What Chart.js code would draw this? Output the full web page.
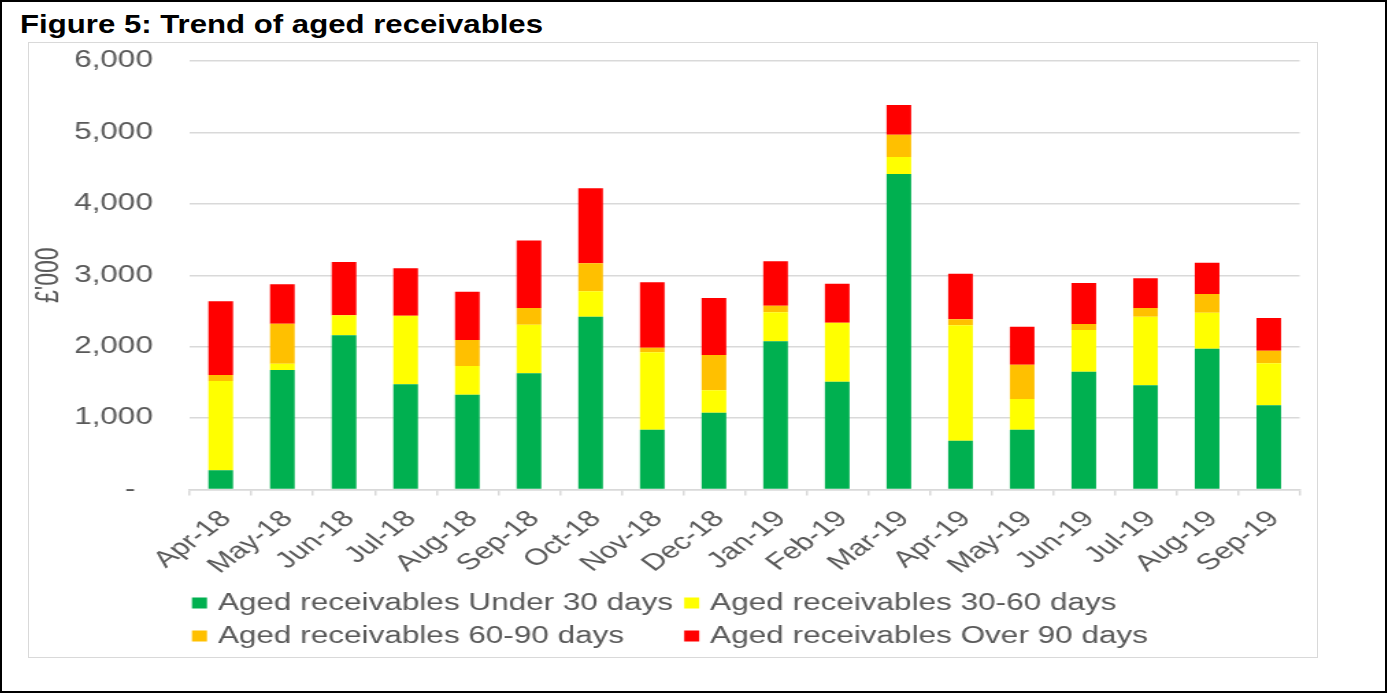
<!DOCTYPE html>
<html>
<head>
<meta charset="utf-8">
<title>Figure 5: Trend of aged receivables</title>
<script src="https://cdn.jsdelivr.net/npm/chart.js@4.4.1/dist/chart.umd.min.js"></script>
<style>
  html, body { margin: 0; padding: 0; background: #fff; }
  #page {
    position: relative; width: 1387px; height: 693px;
    box-sizing: border-box; border: 2px solid #000; overflow: hidden; background: #fff;
  }
  #caption {
    position: absolute; left: 18px; top: 9px;
    font: bold 26px 'Liberation Sans', Arial, sans-serif; line-height: 26px;
    color: #000; white-space: nowrap; transform-origin: 0 0;
  }
  #frame {
    position: absolute; left: 26px; top: 40px; width: 1290px; height: 616px;
    box-sizing: border-box; border: 1px solid #d9d9d9;
  }
  /* the chart is laid out narrow and widened to the frame */
  #stretch {
    position: absolute; left: 26px; top: 40px; width: 942px; height: 616px;
    transform: scaleX(1.3695); transform-origin: 0 0;
  }
</style>
</head>
<body>
<div id="page">
  <div id="caption">Figure 5: Trend of aged receivables</div>
  <div id="frame"></div>
  <div id="stretch"><canvas id="chart" width="942" height="616"></canvas></div>
</div>
<script>
// Month-end aged receivables, £'000
const months = ['Apr-18', 'May-18', 'Jun-18', 'Jul-18', 'Aug-18', 'Sep-18', 'Oct-18', 'Nov-18', 'Dec-18',
                'Jan-19', 'Feb-19', 'Mar-19', 'Apr-19', 'May-19', 'Jun-19', 'Jul-19', 'Aug-19', 'Sep-19'];
const under30 = [270, 1673, 2160, 1473, 1327, 1627, 2419, 837, 1075, 2075, 1509, 4417, 683, 837, 1649, 1459, 1971, 1179];
const days30to60 = [1250, 88, 280, 960, 402, 680, 356, 1084, 314, 406, 826, 238, 1616, 430, 584, 960, 504, 588];
const days60to90 = [84, 560, 0, 0, 364, 234, 392, 64, 494, 92, 0, 312, 84, 480, 84, 122, 262, 176];
const over90 = [1032, 552, 746, 664, 677, 947, 1050, 916, 798, 622, 546, 416, 638, 532, 574, 416, 438, 458];
const seriesNames = ['Aged receivables Under 30 days', 'Aged receivables 30-60 days',
                     'Aged receivables 60-90 days', 'Aged receivables Over 90 days'];
const yMax = 6000;
const yStep = 1000;
const yTitle = "£'000";

// fit the caption to its column width
const caption = document.getElementById('caption');
caption.style.transform = 'scaleX(' + (523 / caption.getBoundingClientRect().width) + ')';

const FONT = "'Liberation Sans', Arial, sans-serif";
const GREY_TEXT = '#595959';
const GRID = '#d9d9d9';
Chart.defaults.font.family = FONT;

// two-column legend drawn under the axis labels
const gridLegend = {
  id: 'gridLegend',
  afterDraw(chart) {
    const ctx = chart.ctx;
    const sets = chart.data.datasets;
    ctx.save();
    ctx.font = '23px ' + FONT;
    ctx.textBaseline = 'middle';
    const box = 11, textGap = 19, colGap = 8;
    const left = chart.chartArea.left + 1.5;
    const col1 = Math.max(ctx.measureText(sets[0].label).width, ctx.measureText(sets[2].label).width);
    const colX = [left, left + textGap + col1 + colGap];
    const rowY = [chart.height - 55, chart.height - 22];
    sets.forEach((ds, i) => {
      const x = colX[i % 2], y = rowY[Math.floor(i / 2)];
      ctx.fillStyle = ds.backgroundColor;
      ctx.fillRect(x, y - box / 2, box, box);
      ctx.fillStyle = GREY_TEXT;
      ctx.fillText(ds.label, x + textGap, y + 0.5);
    });
    ctx.restore();
  }
};

new Chart(document.getElementById('chart'), {
  type: 'bar',
  data: {
    labels: months,
    datasets: [
      { label: seriesNames[0], data: under30, backgroundColor: '#00B050' },
      { label: seriesNames[1], data: days30to60, backgroundColor: '#FFFF00' },
      { label: seriesNames[2], data: days60to90, backgroundColor: '#FFC000' },
      { label: seriesNames[3], data: over90, backgroundColor: '#FF0000' }
    ]
  },
  options: {
    responsive: false,
    animation: false,
    devicePixelRatio: 1,
    layout: { padding: { left: 2, right: 13.5, top: 19, bottom: 70 } },
    datasets: { bar: { barPercentage: 0.4, categoryPercentage: 1, borderWidth: 0 } },
    plugins: { legend: { display: false }, tooltip: { enabled: false } },
    scales: {
      x: {
        stacked: true,
        grid: { display: true, drawOnChartArea: false, drawTicks: true, tickLength: 6,
                color: GRID, lineWidth: 1.5, offset: true },
        border: { display: true, color: GRID, width: 1.5 },
        ticks: { color: GREY_TEXT, font: { size: 23 }, minRotation: 45, maxRotation: 45,
                 autoSkip: false, padding: 10, labelOffset: 4 },
        afterFit(scale) { scale.height = 98.5; }
      },
      y: {
        stacked: true,
        min: 0,
        max: yMax,
        grid: { color: GRID, lineWidth: 1.5, drawTicks: false },
        border: { display: false },
        ticks: {
          stepSize: yStep, color: GREY_TEXT, font: { size: 23 }, padding: 27,
          callback: v => v === 0 ? '-  ' : v.toLocaleString('en-GB')
        },
        title: { display: true, text: yTitle, color: GREY_TEXT, font: { size: 23 }, padding: 0 },
        afterFit(scale) {
          scale.width = 116.2;
          // the label gap is horizontal only; keep it out of the vertical margins
          scale.paddingTop = 0;
          scale.paddingBottom = 0;
        }
      }
    }
  },
  plugins: [gridLegend]
});
</script>
</body>
</html>
